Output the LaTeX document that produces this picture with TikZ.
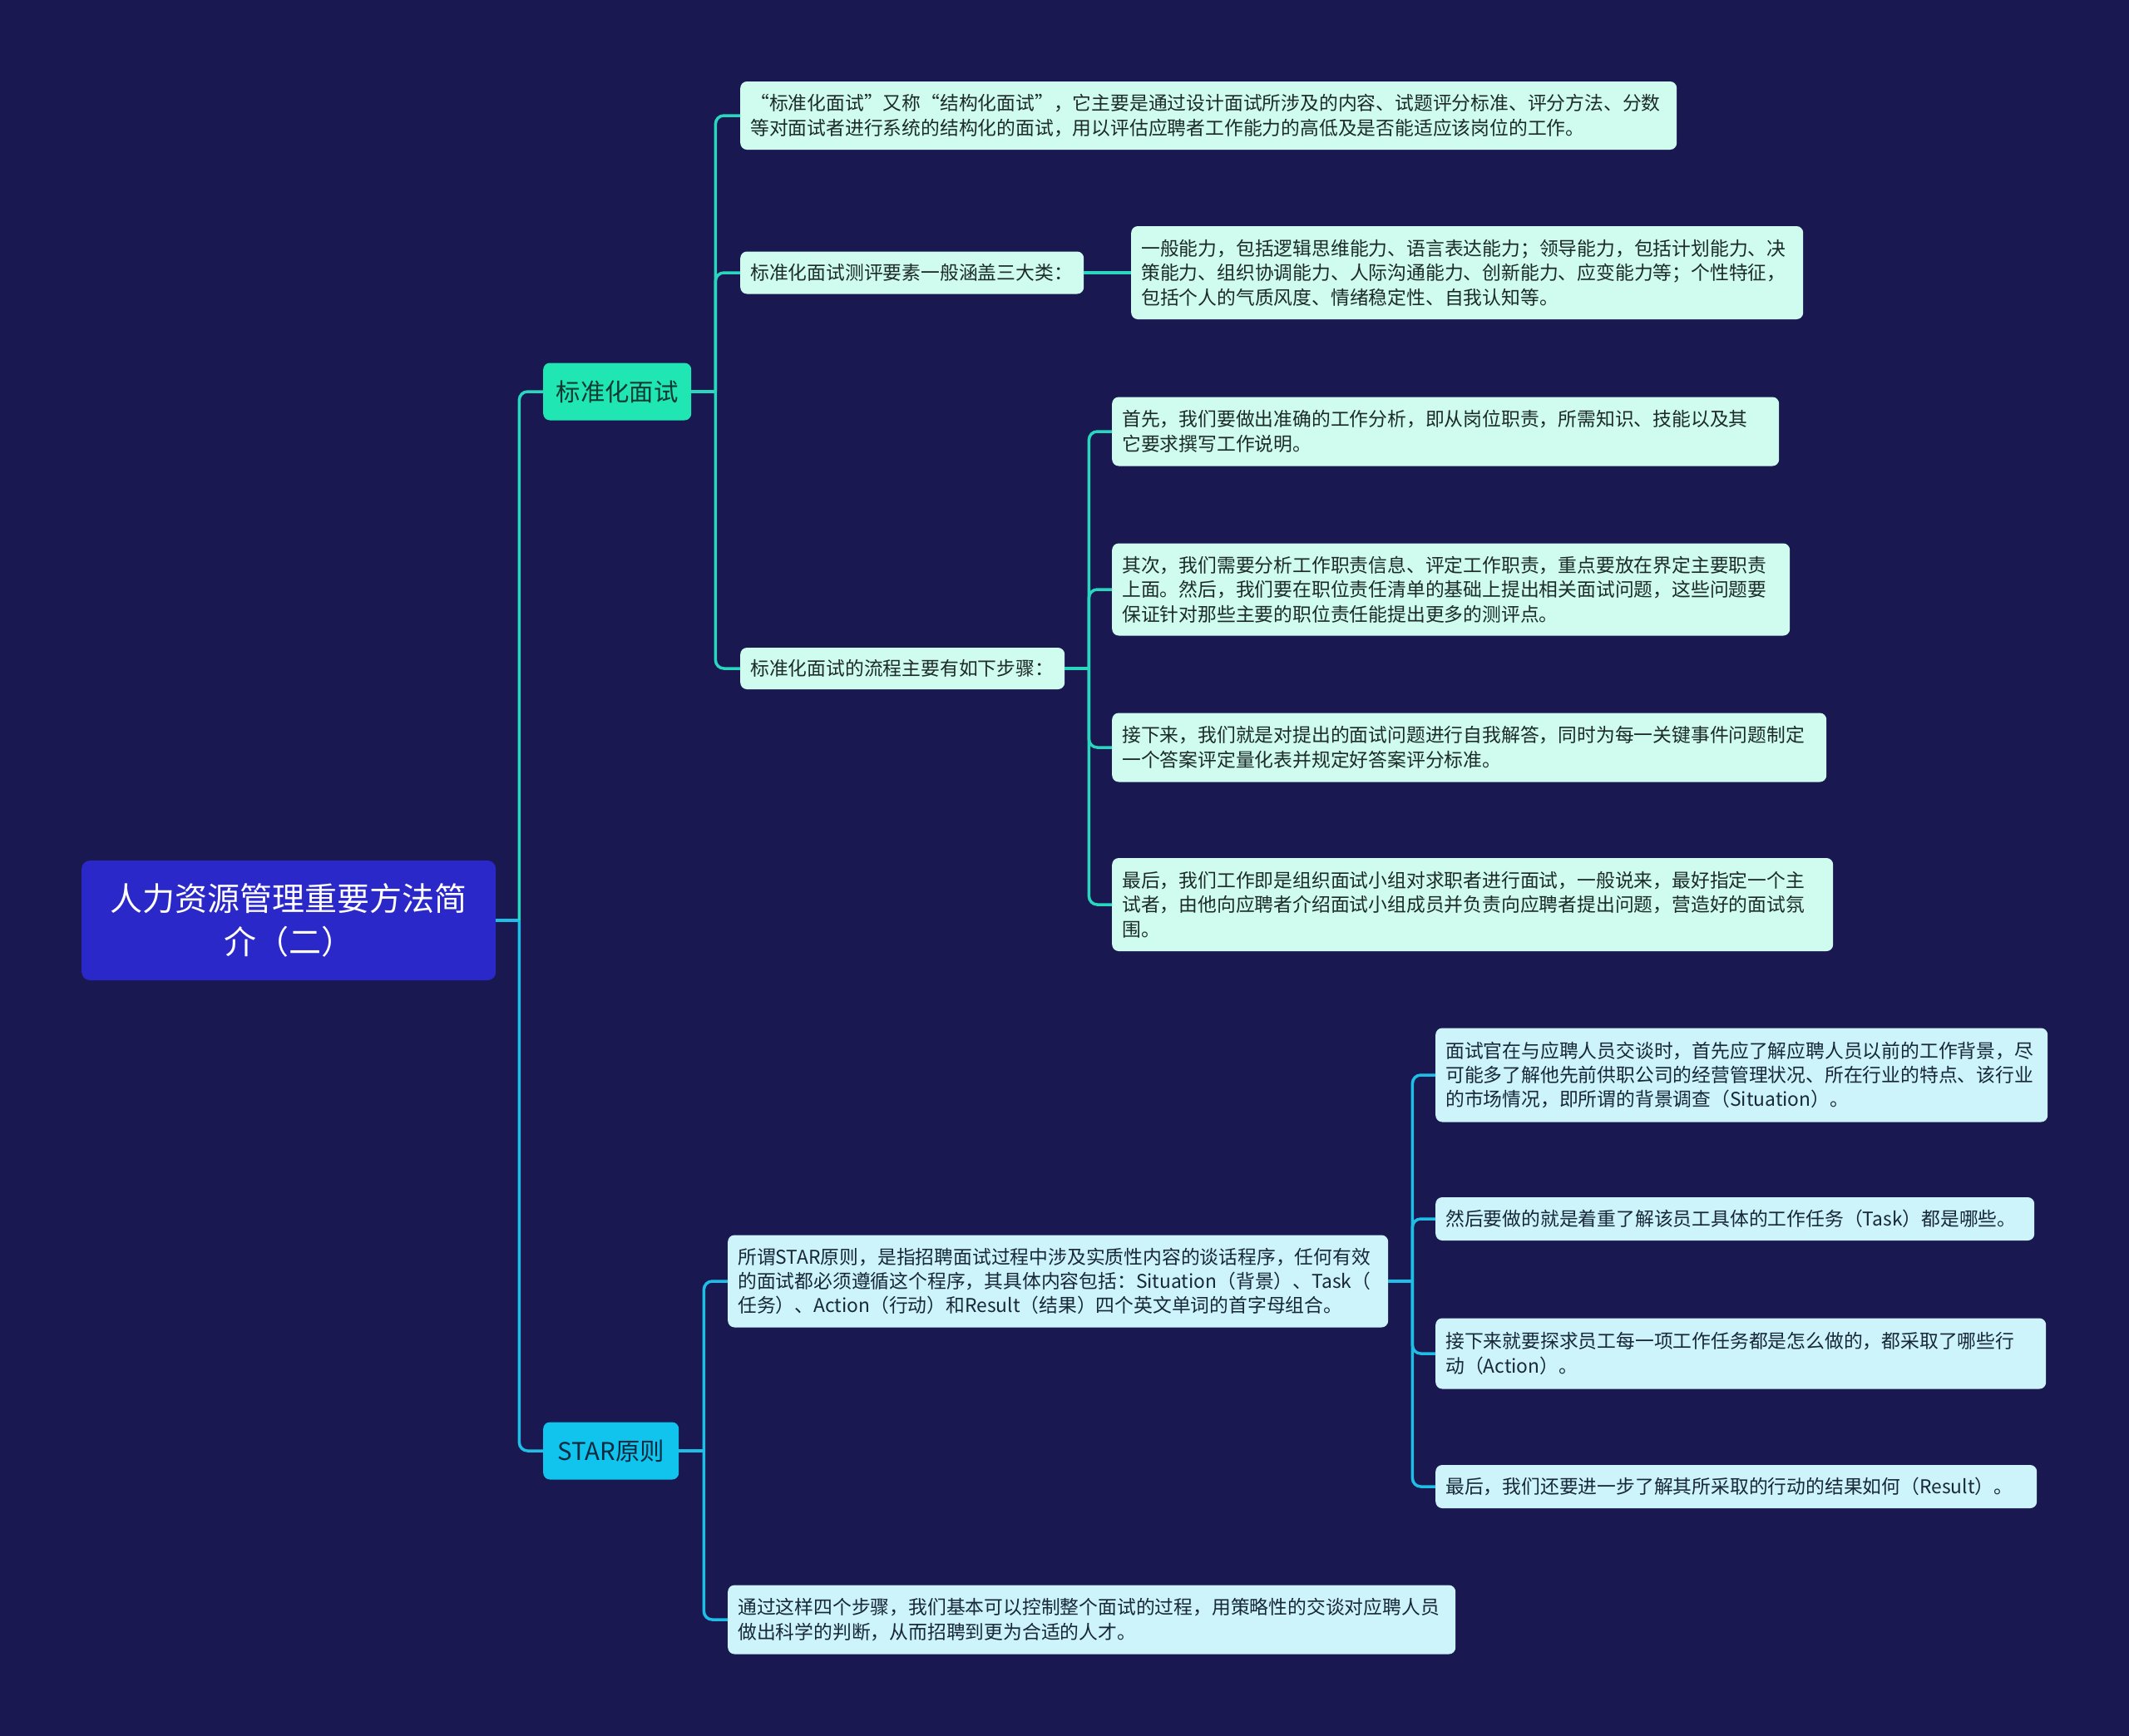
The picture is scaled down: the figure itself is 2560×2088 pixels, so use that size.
\documentclass[tikz,border=0pt]{standalone}
\usepackage{fontspec}
\setmainfont{Noto Sans CJK SC}
\usepackage{tikz}
\usetikzlibrary{positioning}
\definecolor{navy}{RGB}{26,24,80}
\definecolor{rootblue}{RGB}{42,40,200}
\definecolor{stdfill}{RGB}{32,230,180}
\definecolor{stdink}{RGB}{14,58,50}
\definecolor{starfill}{RGB}{16,196,238}
\definecolor{starink}{RGB}{10,42,64}
\definecolor{mintfill}{RGB}{207,252,239}
\definecolor{mintink}{RGB}{28,43,40}
\definecolor{skyfill}{RGB}{205,243,251}
\definecolor{skyink}{RGB}{23,40,56}
\definecolor{mintline}{RGB}{40,215,190}
\definecolor{skyline}{RGB}{30,190,230}
\tikzset{
  rootbox/.style = {fill=rootblue, text=white, rounded corners=10pt, anchor=west,
                    minimum width=498pt, minimum height=144pt, text width=470pt,
                    align=center, inner sep=0pt, font=\fontsize{39}{52}\selectfont},
  topic/.style   = {rounded corners=8pt, anchor=west, minimum height=69pt, inner sep=0pt,
                    font=\fontsize{29.4}{36}\selectfont},
  leaf/.style    = {rounded corners=8pt, anchor=west, align=left, inner xsep=12pt,
                    inner ysep=0pt, font=\fontsize{22.8}{29.4}\selectfont},
  mint/.style    = {leaf, fill=mintfill, text=mintink},
  sky/.style     = {leaf, fill=skyfill, text=skyink},
  wire/.style    = {line width=3.5pt, rounded corners=10pt},
}
\begin{document}
\begin{tikzpicture}[x=1pt,y=-1pt]
  \fill[navy] (0,0) rectangle (2560,2088);
  % centre and main topics
  \node[rootbox] (root) at (98,1107) {人力资源管理重要方法简\\介（二）};
  \node[topic, fill=stdfill, text=stdink, minimum width=178pt] (std) at (653,471) {标准化面试};
  \node[topic, fill=starfill, text=starink, minimum width=163pt] (star) at (653,1745) {STAR原则};
  % standard interview
  \node[mint, text width=1102pt, minimum height=82pt] (def) at (890,139)
    {“标准化面试”又称“结构化面试”，它主要是通过设计面试所涉及的内容、试题评分标准、评分方法、分数\\等对面试者进行系统的结构化的面试，用以评估应聘者工作能力的高低及是否能适应该岗位的工作。};
  \node[mint, text width=389pt, minimum height=51pt] (elem) at (890,328)
    {标准化面试测评要素一般涵盖三大类：};
  \node[mint, text width=784pt, minimum height=112pt] (elemd) at (1360,328)
    {一般能力，包括逻辑思维能力、语言表达能力；领导能力，包括计划能力、决\\策能力、组织协调能力、人际沟通能力、创新能力、应变能力等；个性特征，\\包括个人的气质风度、情绪稳定性、自我认知等。};
  \node[mint, text width=366pt, minimum height=50pt] (flow) at (890,804)
    {标准化面试的流程主要有如下步骤：};
  \node[mint, text width=778pt, minimum height=83pt] (s1) at (1337,519)
    {首先，我们要做出准确的工作分析，即从岗位职责，所需知识、技能以及其\\它要求撰写工作说明。};
  \node[mint, text width=791pt, minimum height=111pt] (s2) at (1337,709)
    {其次，我们需要分析工作职责信息、评定工作职责，重点要放在界定主要职责\\上面。然后，我们要在职位责任清单的基础上提出相关面试问题，这些问题要\\保证针对那些主要的职位责任能提出更多的测评点。};
  \node[mint, text width=835pt, minimum height=83pt] (s3) at (1337,899)
    {接下来，我们就是对提出的面试问题进行自我解答，同时为每一关键事件问题制定\\一个答案评定量化表并规定好答案评分标准。};
  \node[mint, text width=843pt, minimum height=112pt] (s4) at (1337,1088)
    {最后，我们工作即是组织面试小组对求职者进行面试，一般说来，最好指定一个主\\试者，由他向应聘者介绍面试小组成员并负责向应聘者提出问题，营造好的面试氛\\围。};
  % STAR
  \node[sky, text width=770pt, minimum height=111pt] (sdef) at (875,1541)
    {所谓STAR原则，是指招聘面试过程中涉及实质性内容的谈话程序，任何有效\\的面试都必须遵循这个程序，其具体内容包括：Situation（背景）、Task（\\任务）、Action（行动）和Result（结果）四个英文单词的首字母组合。};
  \node[sky, text width=712pt, minimum height=113pt] (t1) at (1726,1293)
    {面试官在与应聘人员交谈时，首先应了解应聘人员以前的工作背景，尽\\可能多了解他先前供职公司的经营管理状况、所在行业的特点、该行业\\的市场情况，即所谓的背景调查（Situation）。};
  \node[sky, text width=696pt, minimum height=52pt] (t2) at (1726,1466)
    {然后要做的就是着重了解该员工具体的工作任务（Task）都是哪些。};
  \node[sky, text width=710pt, minimum height=85pt] (t3) at (1726,1628)
    {接下来就要探求员工每一项工作任务都是怎么做的，都采取了哪些行\\动（Action）。};
  \node[sky, text width=699pt, minimum height=52pt] (t4) at (1726,1788)
    {最后，我们还要进一步了解其所采取的行动的结果如何（Result）。};
  \node[sky, text width=851pt, minimum height=83pt] (ssum) at (875,1948)
    {通过这样四个步骤，我们基本可以控制整个面试的过程，用策略性的交谈对应聘人员\\做出科学的判断，从而招聘到更为合适的人才。};
  % connectors
  \path (root.east) ++(28,0) coordinate (jr);
  \draw[wire, skyline] (root.east) -- (jr);
  \draw[wire, mintline] (jr) |- (std.west);
  \draw[wire, skyline] (jr) |- (star.west);
  \path (std.east) ++(29,0) coordinate (js);
  \draw[wire, mintline] (std.east) -- (js);
  \foreach \n in {def,elem,flow}
    \draw[wire, mintline] (js) |- (\n.west);
  \draw[wire, mintline] (elem.east) -- (elemd.west);
  \path (flow.east) ++(29,0) coordinate (jf);
  \draw[wire, mintline] (flow.east) -- (jf);
  \foreach \n in {s1,s2,s3,s4}
    \draw[wire, mintline] (jf) |- (\n.west);
  \path (star.east) ++(30,0) coordinate (jt);
  \draw[wire, skyline] (star.east) -- (jt);
  \foreach \n in {sdef,ssum}
    \draw[wire, skyline] (jt) |- (\n.west);
  \path (sdef.east) ++(29,0) coordinate (jd);
  \draw[wire, skyline] (sdef.east) -- (jd);
  \foreach \n in {t1,t2,t3,t4}
    \draw[wire, skyline] (jd) |- (\n.west);
\end{tikzpicture}
\end{document}
